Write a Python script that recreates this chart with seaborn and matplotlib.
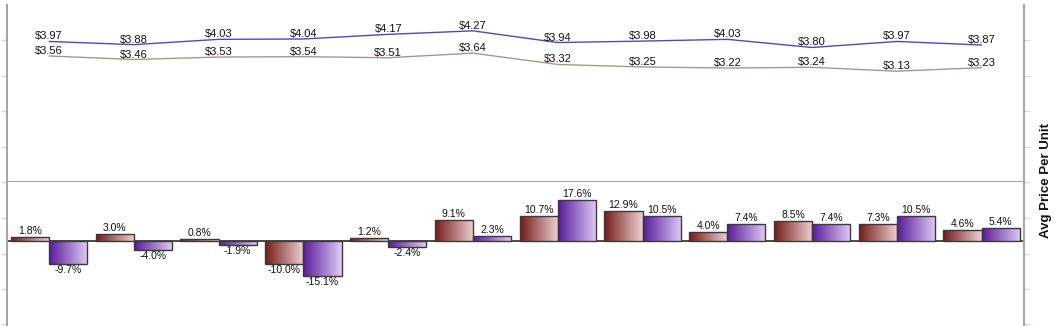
import numpy as np
import pandas as pd
import matplotlib
matplotlib.use("Agg")
import matplotlib.pyplot as plt
from matplotlib.colors import to_rgb
import seaborn as sns

# ---- data ----
categories = [f"P{i+1}" for i in range(12)]
price_a = [3.97, 3.88, 4.03, 4.04, 4.17, 4.27, 3.94, 3.98, 4.03, 3.80, 3.97, 3.87]
price_b = [3.56, 3.46, 3.53, 3.54, 3.51, 3.64, 3.32, 3.25, 3.22, 3.24, 3.13, 3.23]
change_b = [1.8, 3.0, 0.8, -10.0, 1.2, 9.1, 10.7, 12.9, 4.0, 8.5, 7.3, 4.6]
change_a = [-9.7, -4.0, -1.9, -15.1, -2.4, 2.3, 17.6, 10.5, 7.4, 7.4, 10.5, 5.4]
series_names = ["Series B", "Series A"]
y_label = "Avg Price Per Unit"

sns.set_style("white")
plt.rcParams['font.family'] = ['Liberation Sans', 'DejaVu Sans']

W, H = 1059, 326
fig = plt.figure(figsize=(W / 100, H / 100), dpi=100)

def fx(px):
    return px / W

def fy(py):
    return 1 - py / H

left_px, right_px = 6.7, 1024
top_px, div_px, bot_px = 5, 182, 326
ax1 = fig.add_axes([fx(left_px), fy(div_px), fx(right_px - left_px), (div_px - top_px) / H])
ax2 = fig.add_axes([fx(left_px), 0, fx(right_px - left_px), (bot_px - div_px) / H])

blue_line = "#4848d6"
tan_line = "#ad9585"
maroon = ("#741a1a", "#efd2d2")
purple = ("#571a9a", "#e0ccf6")

# ---- top panel: lines ----
n = len(categories)
df_line = pd.DataFrame({
    "pos": list(range(n)) * 2,
    "price": price_a + price_b,
    "series": ["A"] * n + ["B"] * n,
})
sns.lineplot(data=df_line, x="pos", y="price", hue="series",
             palette={"A": blue_line, "B": tan_line}, legend=False,
             linewidth=1.0, ax=ax1)
for vals in (price_a, price_b):
    for i, v in enumerate(vals):
        ax1.annotate(f"${v:.2f}", (i, v), xytext=(0, 5), textcoords="offset pixels",
                     ha="center", va="center", fontsize=8, color="#111111")

ax1.set_xlim(-0.5, n - 0.5)
ax1.set_ylim(0, 5)
ax1.set_yticks([0, 1, 2, 3, 4])
ax1.set_xlabel("")
ax1.set_ylabel("")

# ---- bottom panel: bars ----
df_bar = pd.DataFrame({
    "cat": categories * 2,
    "change": change_b + change_a,
    "series": [series_names[0]] * n + [series_names[1]] * n,
})
pal = {series_names[0]: maroon[0], series_names[1]: purple[0]}
ax2.axhline(0, color="#3c3c3c", lw=1.3, zorder=1)
sns.barplot(data=df_bar, x="cat", y="change", hue="series", palette=pal,
            width=0.9, gap=0, legend=False, ax=ax2, errorbar=None, saturation=1,
            edgecolor="#3a3a3a", linewidth=1.0, zorder=3)

z0, s = 241, 2.34
ylo, yhi = -(bot_px - z0) / s, (z0 - div_px) / s

def grad(c0, c1):
    a, b = np.array(to_rgb(c0)), np.array(to_rgb(c1))
    t = np.linspace(0, 1, 128)[:, None]
    return (a * (1 - t) + b * t)[None, :, :]

g_m = grad(*maroon)
g_p = grad(*purple)
m_rgb = np.array(to_rgb(maroon[0]))
p_rgb = np.array(to_rgb(purple[0]))
for p in list(ax2.patches):
    fc = np.array(p.get_facecolor()[:3])
    g = g_m if np.linalg.norm(fc - m_rgb) < np.linalg.norm(fc - p_rgb) else g_p
    x, y = p.get_x(), p.get_y()
    w, h = p.get_width(), p.get_height()
    if w == 0:
        continue
    im = ax2.imshow(g, extent=[x, x + w, min(y, y + h), max(y, y + h)],
                    aspect="auto", zorder=2, interpolation="bilinear")
    im.set_clip_path(p)
    p.set_facecolor("none")
    top = max(y, y + h)
    bot = min(y, y + h)
    value = y + h
    if value >= 0:
        ax2.annotate(f"{value:.1f}%", (x + w / 2, top), xytext=(0, 6),
                     textcoords="offset pixels", ha="center", va="center",
                     fontsize=7.5, color="#111111")
    else:
        ax2.annotate(f"{value:.1f}%", (x + w / 2, bot), xytext=(0, -6),
                     textcoords="offset pixels", ha="center", va="center",
                     fontsize=7.5, color="#111111")

ax2.set_xlim(-0.5, n - 0.5)
ax2.set_ylim(ylo, yhi)
ax2.set_yticks([(z0 - py) / s for py in (218, 253.5, 289, 324)])
ax2.set_xlabel("")
ax2.set_ylabel("")

# ---- frame styling ----
spine_c = "#a6a6a6"
tick_c = "#cfdcee"
for ax in (ax1, ax2):
    ax.set_xticks([])
    ax.tick_params(axis="y", which="both", left=True, right=True, direction="out",
                   length=4.5, width=1.0, color=tick_c, labelleft=False, labelright=False)
    for side in ("left", "right"):
        ax.spines[side].set_color(spine_c)
        ax.spines[side].set_linewidth(1.5)
    ax.set_facecolor("white")
ax1.spines["top"].set_visible(False)
ax1.spines["bottom"].set_color(spine_c)
ax1.spines["bottom"].set_linewidth(1.5)
ax2.spines["top"].set_visible(False)
ax2.spines["bottom"].set_visible(False)

fig.text(fx(1046), fy(180), y_label, rotation=90, ha="center", va="center",
         fontsize=9.5, fontweight="bold", color="#111111")

fig.savefig("out.png", dpi=100, facecolor="white")
